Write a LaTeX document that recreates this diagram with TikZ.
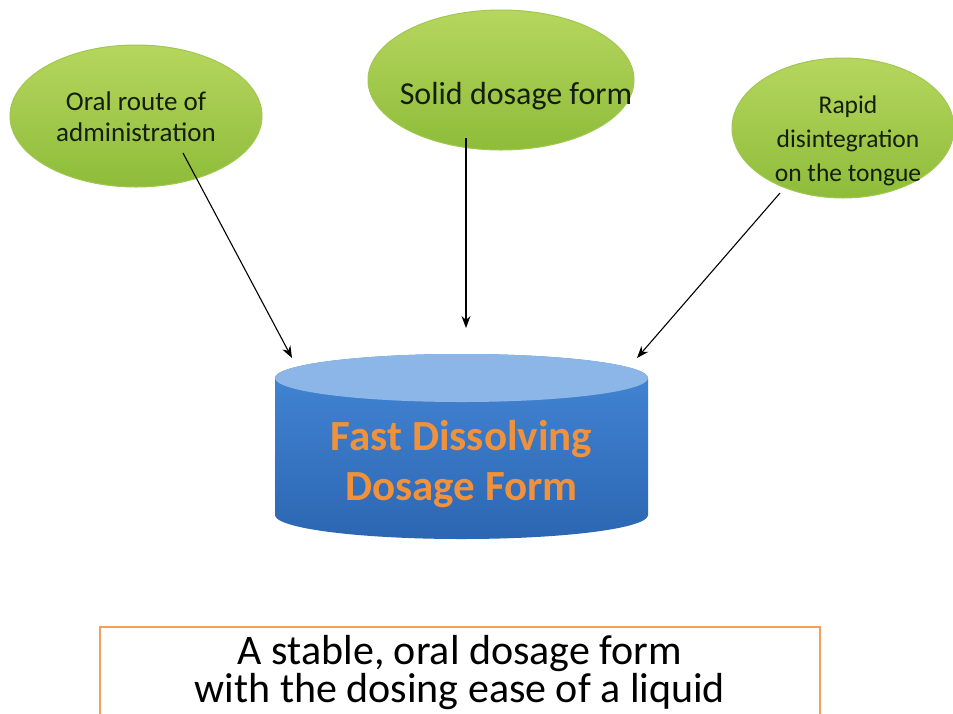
\documentclass[tikz,border=0pt]{standalone}
\usepackage{fontspec}
\setmainfont{Carlito}
\usetikzlibrary{arrows.meta,shapes.geometric}
\definecolor{greenTop}{RGB}{182,214,94}
\definecolor{greenBot}{RGB}{142,188,58}
\definecolor{greenEdge}{RGB}{160,200,80}
\definecolor{cylTop}{RGB}{141,182,232}
\definecolor{cylSideTop}{RGB}{68,135,214}
\definecolor{cylSideBot}{RGB}{44,102,178}
\definecolor{orangeTxt}{RGB}{240,146,60}
\definecolor{orangeBox}{RGB}{245,160,90}
\definecolor{darkTxt}{RGB}{20,30,10}
\tikzset{
  bubble/.style={ellipse, draw=greenEdge, line width=1pt, top color=greenTop, bottom color=greenBot, inner sep=0pt},
  bubbletext/.style={align=center, text=darkTxt},
  conn/.style={-{Stealth[length=12pt,width=9pt]}, line width=1.1pt, black}
}
\begin{document}
\begin{tikzpicture}[x=1pt,y=-1pt]
\useasboundingbox (0,0) rectangle (953,713);
\clip (0,0) rectangle (953,713);
\fill[white] (0,0) rectangle (953,713);
% green ellipses
\node[bubble, minimum width=252pt, minimum height=142pt] (oral) at (136,116) {};
\node[bubble, minimum width=266pt, minimum height=140pt] (solid) at (501,80) {};
\node[bubble, minimum width=222pt, minimum height=140pt] (rapid) at (843,128) {};
\node[bubbletext, font=\fontsize{27}{31}\selectfont] (oraltxt) at (136,117) {Oral route of\\administration};
\node[bubbletext, font=\fontsize{32}{32}\selectfont] (solidtxt) at (516,96) {Solid dosage form};
\node[bubbletext, font=\fontsize{25.5}{34}\selectfont] (rapidtxt) at (848,141) {Rapid\\disintegration\\on the tongue};
% cylinder
\path[top color=cylSideTop, bottom color=cylSideBot]
  (275,378) -- (275,515) arc[start angle=180, end angle=0, x radius=186.5, y radius=24]
  -- (648,378) arc[start angle=0, end angle=-180, x radius=186.5, y radius=24] -- cycle;
\fill[cylTop] (461.5,378) ellipse[x radius=186.5, y radius=24];
\node[font=\bfseries\fontsize{43}{50}\selectfont, text=orangeTxt, align=center] (fdd) at (461.5,464) {Fast Dissolving\\Dosage Form};
\coordinate (cylL) at (292,358);
\coordinate (cylM) at (466,328);
\coordinate (cylR) at (637,358);
\coordinate (oralS) at (183,153);
\coordinate (solidS) at (466,138);
\coordinate (rapidS) at (780,193);
\draw[conn] (oralS) -- (cylL);
\draw[conn] (solidS) -- (cylM);
\draw[conn] (rapidS) -- (cylR);
% bottom box
\draw[orangeBox, line width=2.5pt] (100,728) -- (100,627) -- (820,627) -- (820,728);
\node[font=\fontsize{42}{38}\selectfont, align=center, text=black] (note) at (460,673) {A stable, oral dosage form\\with the dosing ease of a liquid};
\end{tikzpicture}
\end{document}
